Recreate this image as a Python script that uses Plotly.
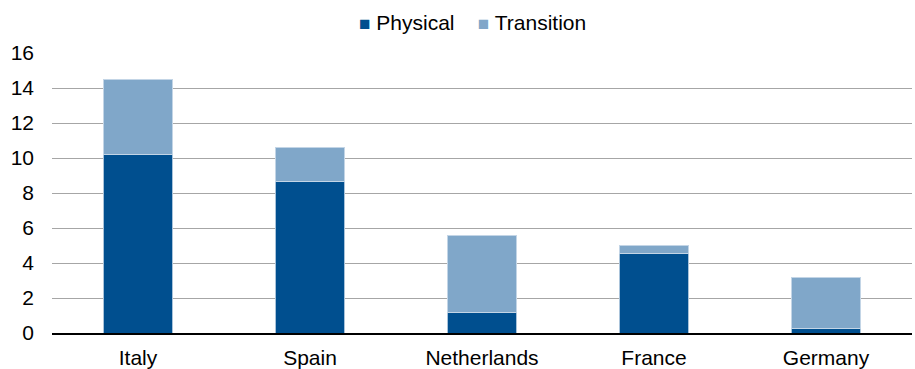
import plotly.graph_objects as go

countries = ["Italy", "Spain", "Netherlands", "France", "Germany"]
physical = [10.2, 8.65, 1.16, 4.56, 0.28]
transition = [4.3, 1.97, 4.39, 0.46, 2.87]
y_ticks = [0, 2, 4, 6, 8, 10, 12, 14, 16]
series_names = ["Physical", "Transition"]

dark = "#004F8F"
light = "#80A7C9"
font_family = "Liberation Sans, Arial, sans-serif"

fig = go.Figure()
fig.add_trace(go.Bar(name=series_names[0], x=countries, y=physical, showlegend=False,
                     marker=dict(color=dark, line=dict(color="#A9C3DA", width=1))))
fig.add_trace(go.Bar(name=series_names[1], x=countries, y=transition, showlegend=False,
                     marker=dict(color=light, line=dict(color="#C3D5E6", width=1))))

sq = "<span style='font-size:19px;color:{c}'>■</span>"
legend_text = (sq.format(c=dark) + " " + series_names[0] + "&nbsp;&nbsp;&nbsp;&nbsp;"
               + sq.format(c=light) + " " + series_names[1])
fig.add_annotation(text=legend_text, xref="paper", yref="paper", x=0.489, y=1.0,
                   yshift=31, xanchor="center", yanchor="middle", showarrow=False,
                   font=dict(size=21, color="#000000", family=font_family))

fig.update_layout(
    barmode="stack",
    bargap=0.6,
    width=915, height=369,
    margin=dict(l=52, r=3, t=53, b=36, autoexpand=False),
    plot_bgcolor="white", paper_bgcolor="white",
    font=dict(family=font_family, size=21, color="#000000"),
    showlegend=False,
)
fig.update_yaxes(range=[0, 16], tickvals=y_ticks, showgrid=True, gridcolor="#A6A6A6",
                 gridwidth=1, zeroline=False, showline=False, ticks="", automargin=False,
                 tickfont=dict(size=21), ticklabelstandoff=17)
fig.update_xaxes(showline=True, linecolor="#000000", linewidth=2, ticks="", automargin=False,
                 tickfont=dict(size=21), ticklabelstandoff=5)

fig.write_html("out.html")
